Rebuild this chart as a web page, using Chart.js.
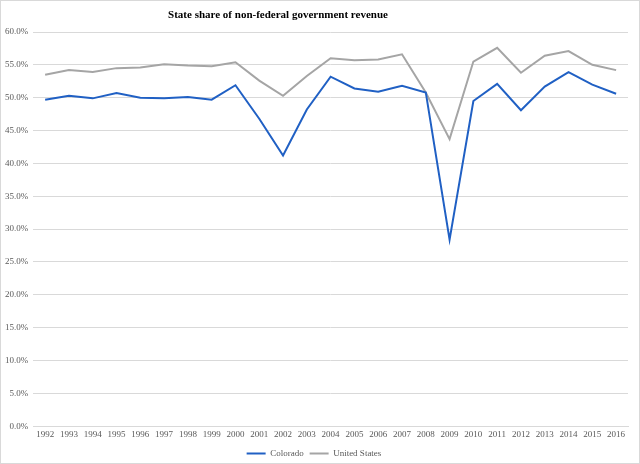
<!DOCTYPE html>
<html>
<head>
<meta charset="utf-8">
<script src="https://cdn.jsdelivr.net/npm/chart.js@4"></script>
<style>
html,body{margin:0;padding:0;background:#fff;overflow:hidden;}
#wrap{position:absolute;left:0;top:0;width:638px;height:462px;border:1px solid #d9d9d9;overflow:hidden;}
</style>
</head>
<body>
<div id="wrap"><canvas id="c"></canvas></div>
<script>
const years = ['1992','1993','1994','1995','1996','1997','1998','1999','2000','2001','2002','2003','2004','2005','2006','2007','2008','2009','2010','2011','2012','2013','2014','2015','2016'];
const colorado = [49.7,50.3,49.9,50.7,50.0,49.9,50.1,49.7,51.9,46.8,41.2,48.2,53.2,51.4,50.9,51.8,50.8,28.4,49.5,52.1,48.1,51.7,53.9,52.0,50.6];
const unitedStates = [53.5,54.2,53.9,54.5,54.6,55.1,54.9,54.8,55.4,52.6,50.3,53.3,56.0,55.7,55.8,56.6,50.8,43.7,55.5,57.6,53.8,56.4,57.1,55.0,54.2];
const titleText = 'State share of non-federal government revenue';

const titlePlugin = {
  id: 'offsetTitle',
  afterDraw(chart) {
    const ctx = chart.ctx;
    ctx.save();
    ctx.font = 'bold 11px "Liberation Serif", serif';
    ctx.fillStyle = '#000';
    ctx.textAlign = 'center';
    ctx.textBaseline = 'middle';
    ctx.fillText(titleText, 277, 14);
    ctx.restore();
  }
};

new Chart(document.getElementById('c'), {
  type: 'line',
  data: {
    labels: years,
    datasets: [
      {label: 'Colorado', data: colorado, borderColor: '#2060C4', backgroundColor: '#2060C4', borderWidth: 2, pointRadius: 0, tension: 0},
      {label: 'United States', data: unitedStates, borderColor: '#A5A5A5', backgroundColor: '#A5A5A5', borderWidth: 2, pointRadius: 0, tension: 0}
    ]
  },
  options: {
    responsive: true,
    maintainAspectRatio: false,
    animation: false,
    layout: {padding: {top: 31, right: 11, left: -1, bottom: -5}},
    plugins: {
      title: {display: false},
      tooltip: {enabled: false},
      legend: {
        position: 'bottom',
        labels: {
          usePointStyle: true,
          pointStyle: 'line',
          pointStyleWidth: 19,
          padding: 6,
          color: '#595959',
          font: {family: '"Liberation Serif", serif', size: 9}
        }
      }
    },
    scales: {
      x: {
        offset: true,
        grid: {display: false, drawTicks: false},
        border: {color: '#d9d9d9'},
        ticks: {color: '#595959', maxRotation: 0, autoSkip: false, padding: 3, font: {family: '"Liberation Serif", serif', size: 9}}
      },
      y: {
        min: 0,
        max: 60,
        grid: {color: '#d9d9d9', drawTicks: false},
        border: {display: false},
        ticks: {
          stepSize: 5,
          padding: 5,
          color: '#595959',
          font: {family: '"Liberation Serif", serif', size: 9},
          callback: v => v.toFixed(1) + '%'
        }
      }
    }
  },
  plugins: [titlePlugin]
});
</script>
</body>
</html>
